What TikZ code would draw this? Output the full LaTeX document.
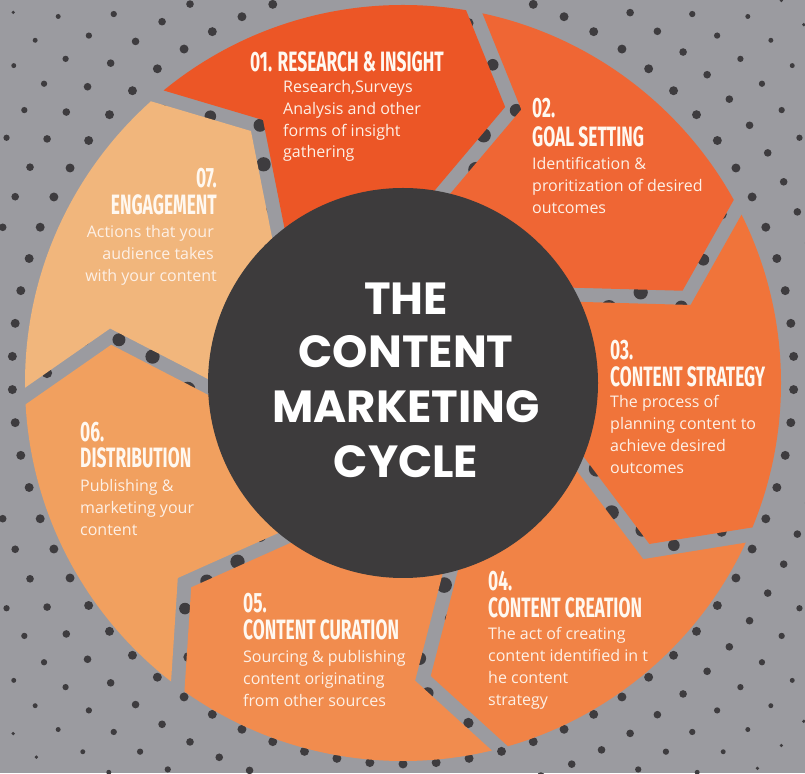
\documentclass[tikz,border=0pt]{standalone}
\usepackage{fontspec}
\usetikzlibrary{calc}
\newfontfamily\headfont[FakeStretch=0.62]{Fira Sans}
\newfontfamily\bodyfont{Open Sans}
\newfontfamily\titlefont{Poppins}
\definecolor{bgc}{RGB}{155,155,160}
\definecolor{dotc}{RGB}{62,60,63}
\definecolor{darkc}{RGB}{61,59,60}
\definecolor{c1}{RGB}{236,86,38}
\definecolor{c2}{RGB}{239,102,52}
\definecolor{c3}{RGB}{240,116,58}
\definecolor{c4}{RGB}{241,131,70}
\definecolor{c5}{RGB}{241,140,78}
\definecolor{c6}{RGB}{241,160,95}
\definecolor{c7}{RGB}{241,182,124}
\definecolor{headc}{RGB}{255,248,240}
\definecolor{bodyc}{RGB}{253,240,230}
\begin{document}
\begin{tikzpicture}[x=1pt,y=1pt,
  hd/.style={font=\headfont\bfseries\fontsize{28}{28}\selectfont, text=headc, inner sep=0pt, text depth=0pt, anchor=base west},
  bd/.style={font=\bodyfont\fontsize{16}{16}\selectfont, text=bodyc, inner sep=0pt, anchor=base west},
  tt/.style={font=\titlefont\bfseries\fontsize{45}{45}\selectfont, text=white, inner sep=0pt, anchor=base}]
\useasboundingbox (0,0) rectangle (805,773);
\fill[bgc] (0,0) rectangle (805,773);
\coordinate (cen) at (403,390);
\coordinate (dcen) at (403,400);
% halftone dots on concentric rings
\foreach \k in {0,...,10} {
  \pgfmathsetmacro\rr{216+35*\k}
  \pgfmathtruncatemacro\nn{round(2*pi*\rr/33)}
  \pgfmathsetmacro\st{360/\nn}
  \pgfmathsetmacro\dd{max(0.8,7.8-0.019*(\rr-216))}
  \pgfmathsetmacro\off{0.5*mod(\k,2)}
  \foreach \i in {1,...,\nn} {
    \pgfmathsetmacro\aa{(\i+\off)*\st}
    \fill[dotc] ($(dcen)+(\aa:\rr)$) circle (\dd);
  }
}
% boundary geometry
\foreach \j in {0,...,6} {
  \pgfmathsetmacro\ph{130.57-51.43*\j}
  \pgfmathsetmacro\phc{\ph-11}
  \coordinate (O\j) at ($(cen)+(\ph:378)$);
  \coordinate (C\j) at ($(cen)+(\phc:296)$);
  \coordinate (I\j) at ($(cen)+(\ph:190)$);
  \coordinate (OF\j) at ($(C\j)!2!(O\j)$);
  \coordinate (IF\j) at ($(C\j)!1.5!(I\j)$);
  \coordinate (Pa\j) at ($(OF\j)!7pt!90:(C\j)$);
  \coordinate (Pb\j) at ($(C\j)!7pt!-90:(OF\j)$);
  \coordinate (Pc\j) at ($(C\j)!7pt!90:(IF\j)$);
  \coordinate (Pd\j) at ($(IF\j)!7pt!-90:(C\j)$);
  \coordinate (Ma\j) at ($(OF\j)!7pt!-90:(C\j)$);
  \coordinate (Mb\j) at ($(C\j)!7pt!90:(OF\j)$);
  \coordinate (Mc\j) at ($(C\j)!7pt!-90:(IF\j)$);
  \coordinate (Md\j) at ($(IF\j)!7pt!90:(C\j)$);
  \edef\tmp{\noexpand\coordinate (P\j) at (intersection of Pa\j--Pb\j\space and Pc\j--Pd\j);
            \noexpand\coordinate (M\j) at (intersection of Ma\j--Mb\j\space and Mc\j--Md\j);}
  \tmp
}
\begin{scope}
  \clip (cen) circle (378);
  \foreach \jt/\jl/\col in {0/1/c1, 1/2/c2, 2/3/c3, 3/4/c4, 4/5/c5, 5/6/c6, 6/0/c7}
    \fill[\col] (Pa\jt) -- (P\jt) -- (Pd\jt) -- (Md\jl) -- (M\jl) -- (Ma\jl) -- cycle;
\end{scope}
\fill[darkc] (cen) circle (195);
% title
\node[tt] (t1) at (406,458) {THE};
\node[tt] (t2) at (406,405) {CONTENT};
\node[tt] (t3) at (406,350) {MARKETING};
\node[tt] (t4) at (406,295) {CYCLE};
% 01
\node[hd] (h1) at (250,701) {01. RESEARCH \& INSIGHT};
\node[bd] (b1a) at (283,680) {Research,Surveys};
\node[bd] (b1b) at (283,658) {Analysis and other};
\node[bd] (b1c) at (283,636) {forms of insight};
\node[bd] (b1d) at (283,615) {gathering};
% 02
\node[hd] (n2) at (532,655) {02.};
\node[hd] (h2) at (532,626) {GOAL SETTING};
\node[bd] (b2a) at (532,603) {Identification \&};
\node[bd] (b2b) at (532,581) {proritization of desired};
\node[bd] (b2c) at (532,559) {outcomes};
% 03
\node[hd] (n3) at (610,413) {03.};
\node[hd] (h3) at (610,386) {CONTENT STRATEGY};
\node[bd] (b3a) at (610,365) {The process of};
\node[bd] (b3b) at (610,343) {planning content to};
\node[bd] (b3c) at (610,321) {achieve desired};
\node[bd] (b3d) at (610,299) {outcomes};
% 04
\node[hd] (n4) at (488,182) {04.};
\node[hd] (h4) at (488,155) {CONTENT CREATION};
\node[bd] (b4a) at (488,133) {The act of creating};
\node[bd] (b4b) at (488,111) {content identified in t};
\node[bd] (b4c) at (488,89) {he content};
\node[bd] (b4d) at (488,67) {strategy};
% 05
\node[hd] (n5) at (243,160) {05.};
\node[hd] (h5) at (243,133) {CONTENT CURATION};
\node[bd] (b5a) at (243,110) {Sourcing \& publishing};
\node[bd] (b5b) at (243,88) {content originating};
\node[bd] (b5c) at (243,66) {from other sources};
% 06
\node[hd] (n6) at (80,331) {06.};
\node[hd] (h6) at (80,305) {DISTRIBUTION};
\node[bd] (b6a) at (80,281) {Publishing \&};
\node[bd] (b6b) at (80,259) {marketing your};
\node[bd] (b6c) at (80,237) {content};
% 07
\node[hd,anchor=base east] (n7) at (217,585) {07.};
\node[hd,anchor=base east] (h7) at (217,558) {ENGAGEMENT};
\node[bd,anchor=base east] (b7a) at (214,535) {Actions that your};
\node[bd,anchor=base east] (b7b) at (214,513) {audience takes};
\node[bd,anchor=base east] (b7c) at (217,491) {with your content};
\end{tikzpicture}
\end{document}
